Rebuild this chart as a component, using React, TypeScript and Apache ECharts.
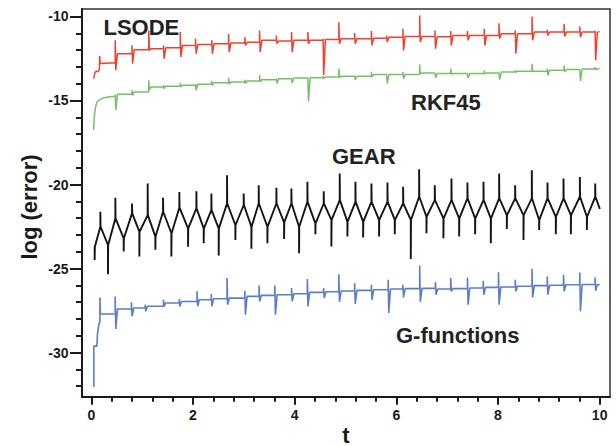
import React, { useEffect, useRef } from "react";
import * as echarts from "echarts";

// ---- axis ticks ----
const xMajorTicks = [0, 2, 4, 6, 8, 10];
const xMinorTicks = [0.4, 0.8, 1.2, 1.6, 2.4, 2.8, 3.2, 3.6, 4.4, 4.8, 5.2, 5.6, 6.4, 6.8, 7.2, 7.6, 8.4, 8.8, 9.2, 9.6];
const yMajorTicks = [-30, -25, -20, -15, -10];
const yMinorTicks = [-32, -31, -29, -28, -27, -26, -24, -23, -22, -21, -19, -18, -17, -16, -14, -13, -12, -11];
const X_MIN = -0.183;
const X_MAX = 10.204;
const Y_MIN = -32.63;
const Y_MAX = -9.554;

// ---- LSODE (red) ----
const lsodeHeadT = [0.047, 0.07, 0.1, 0.13, 0.16, 0.165, 0.175];
const lsodeHeadV = [-13.7, -13.35, -13.25, -13.3, -13.15, -12.35, -12.8];
const lsodeT = [0.47, 0.8, 1.13, 1.42, 1.75, 2.05, 2.37, 2.7, 3.02, 3.31, 3.64, 3.94, 4.26, 4.56, 4.87, 5.18, 5.51, 5.81, 6.13, 6.46, 6.76, 7.07, 7.4, 7.73, 8.02, 8.34, 8.67, 8.97, 9.3, 9.61, 9.91];
const lsodeBase = [-12.75, -12.22, -11.98, -11.92, -11.86, -11.72, -11.66, -11.62, -11.58, -11.54, -11.42, -11.46, -11.42, -11.42, -11.37, -11.33, -11.33, -11.29, -11.23, -11.19, -11.19, -11.2, -11.13, -11.13, -11.13, -11.03, -11.03, -10.93, -10.93, -10.93, -10.93];
const lsodeUp = [-11.42, -11.72, -10.83, -11.72, -10.93, -11.33, -11.42, -11.03, -11.23, -10.83, -11.13, -10.93, -10.93, -11.33, -10.34, -10.99, -10.87, -11.13, -10.73, -9.94, -10.83, -10.87, -10.87, -10.73, -10.4, -10.83, -10.0, -10.79, -10.44, -10.6, -10.83];
const lsodeDown = [-13.2, -12.81, -12.02, -12.51, -12.41, -12.22, -12.22, -12.12, -11.72, -12.12, -11.62, -12.12, -11.62, -13.5, -11.62, -11.62, -11.72, -11.52, -12.02, -11.52, -11.92, -11.72, -11.42, -11.72, -11.33, -12.22, -11.42, -11.13, -11.19, -11.23, -12.61];
const lsodeTailT = [9.96, 10.0];
const lsodeTailV = [-10.93, -10.9];

// ---- RKF45 (green) ----
const rkfHeadT = [0.047, 0.055, 0.08, 0.11, 0.16, 0.25, 0.4];
const rkfHeadV = [-16.76, -16.07, -15.45, -15.1, -14.95, -14.83, -14.76];
const rkfT = [0.47, 0.8, 1.13, 1.42, 1.75, 2.05, 2.37, 2.7, 3.02, 3.31, 3.64, 3.94, 4.26, 4.56, 4.87, 5.18, 5.51, 5.81, 6.13, 6.46, 6.76, 7.07, 7.4, 7.73, 8.02, 8.34, 8.67, 8.97, 9.3, 9.61, 9.91];
const rkfBase = [-14.74, -14.63, -14.49, -14.19, -14.15, -14.09, -14.03, -13.95, -13.9, -13.84, -13.76, -13.7, -13.66, -13.64, -13.6, -13.56, -13.56, -13.46, -13.46, -13.46, -13.36, -13.4, -13.4, -13.4, -13.36, -13.3, -13.26, -13.26, -13.2, -13.16, -13.12];
const rkfUp = [-14.65, -14.39, -13.8, -14.09, -13.95, -14.0, -13.84, -13.64, -13.76, -13.5, -13.7, -13.66, -13.64, -13.55, -13.1, -13.5, -13.3, -13.42, -13.3, -12.85, -13.34, -13.1, -13.38, -13.2, -13.34, -13.2, -12.81, -13.1, -12.91, -13.14, -13.0];
const rkfDown = [-15.57, -14.7, -14.35, -14.3, -14.19, -14.39, -14.09, -14.03, -13.99, -13.9, -13.99, -13.95, -15.04, -13.7, -13.64, -13.76, -13.6, -13.99, -13.7, -13.4, -13.66, -13.42, -13.66, -13.42, -13.76, -13.32, -13.28, -13.5, -13.3, -13.84, -13.14];
const rkfTailT = [9.96, 10.0];
const rkfTailV = [-13.12, -13.1];

// ---- GEAR (black): zigzag vertices with spikes ----
const gearT = [0.066, 0.178, 0.328, 0.473, 0.637, 0.801, 0.945, 1.109, 1.26, 1.411, 1.575, 1.732, 1.903, 2.067, 2.211, 2.362, 2.506, 2.67, 2.834, 2.998, 3.149, 3.293, 3.464, 3.641, 3.792, 3.936, 4.087, 4.251, 4.408, 4.572, 4.723, 4.887, 5.038, 5.196, 5.347, 5.511, 5.661, 5.826, 5.97, 6.134, 6.285, 6.449, 6.593, 6.757, 6.927, 7.085, 7.236, 7.399, 7.55, 7.715, 7.859, 8.023, 8.174, 8.338, 8.502, 8.666, 8.81, 8.974, 9.138, 9.289, 9.434, 9.611, 9.749, 9.913];
const gearVertex = [-23.7, -22.51, -23.6, -22.02, -23.2, -21.72, -22.81, -21.82, -23.1, -21.62, -22.9, -21.38, -22.61, -21.42, -22.61, -21.52, -22.61, -21.13, -22.41, -21.22, -22.51, -21.13, -22.51, -21.13, -22.25, -21.13, -22.51, -21.03, -22.31, -21.13, -22.11, -20.93, -22.21, -21.03, -22.21, -21.03, -22.11, -21.03, -22.11, -21.13, -22.11, -20.73, -21.92, -20.93, -22.02, -20.93, -22.02, -20.83, -22.02, -20.93, -22.02, -20.83, -21.82, -20.83, -21.82, -20.83, -22.11, -20.83, -21.92, -20.83, -21.82, -20.73, -21.92, -20.73];
const gearSpike = [-24.49, -21.62, -25.34, -20.79, -23.99, -21.13, -24.29, -19.94, -23.89, -20.79, -24.29, -20.44, -23.7, -20.4, -23.5, -20.53, -24.23, -19.45, -23.3, -20.53, -23.83, -20.04, -23.5, -20.2, -23.24, -20.24, -24.09, -19.84, -22.96, -20.4, -23.69, -19.35, -23.1, -19.84, -23.16, -19.94, -23.1, -19.88, -22.96, -20.14, -24.43, -19.09, -22.9, -20.04, -23.2, -19.64, -23.1, -19.88, -22.96, -19.84, -23.5, -19.35, -22.65, -20.04, -23.3, -19.15, -22.71, -19.88, -22.96, -19.64, -22.96, -19.55, -22.71, -19.94];
const gearTailT = [10.005];
const gearTailV = [-21.46];

// ---- G-functions (blue) ----
const gfHeadT = [0.05, 0.05, 0.11, 0.12, 0.15, 0.17, 0.17, 0.18];
const gfHeadV = [-32.05, -29.62, -29.62, -28.93, -28.3, -28.2, -26.72, -27.71];
const gfT = [0.47, 0.79, 1.06, 1.42, 1.73, 2.08, 2.36, 2.67, 3.02, 3.3, 3.61, 3.94, 4.25, 4.57, 4.87, 5.18, 5.51, 5.84, 6.13, 6.46, 6.77, 7.07, 7.4, 7.71, 8.01, 8.34, 8.67, 8.97, 9.29, 9.61, 9.91];
const gfBase = [-27.71, -27.41, -27.35, -27.25, -27.05, -26.96, -26.86, -26.8, -26.76, -26.66, -26.6, -26.56, -26.5, -26.42, -26.38, -26.34, -26.3, -26.26, -26.22, -26.2, -26.18, -26.22, -26.2, -26.16, -26.12, -26.1, -26.06, -26.02, -26.0, -25.97, -25.95];
const gfUp = [-26.66, -27.01, -27.15, -26.86, -26.82, -26.36, -26.52, -25.57, -26.32, -26.01, -26.01, -26.16, -25.63, -26.16, -25.34, -25.87, -25.97, -25.67, -25.97, -24.82, -25.8, -25.57, -25.53, -25.73, -25.22, -25.67, -25.02, -25.47, -25.37, -25.24, -25.53];
const gfDown = [-28.6, -27.84, -27.55, -27.25, -27.25, -27.25, -27.25, -27.15, -27.75, -26.96, -27.75, -26.96, -27.25, -26.76, -26.99, -27.11, -26.86, -27.65, -26.72, -26.99, -26.56, -26.36, -27.15, -26.56, -27.15, -26.36, -26.72, -26.56, -26.36, -27.55, -26.32];
const gfTailT = [9.96, 10.0];
const gfTailV = [-25.95, -25.97];

const FONT = '"Liberation Sans", Arial, Helvetica, sans-serif';
const INK = "#1a1a1a";

function spiky(headT: number[], headV: number[], T: number[], base: number[], up: number[], down: number[], tailT: number[], tailV: number[]) {
  const pts: number[][] = [];
  headT.forEach((t, i) => pts.push([t, headV[i]]));
  T.forEach((t, i) => {
    const next = i + 1 < T.length ? base[i + 1] : tailV[0];
    pts.push([t, base[i]]);
    pts.push([t, up[i]]);
    pts.push([t + 0.012, down[i]]);
    pts.push([t + 0.045, next]);
  });
  tailT.forEach((t, i) => pts.push([t, tailV[i]]));
  return pts;
}

function zigzag(T: number[], V: number[], S: number[], tailT: number[], tailV: number[]) {
  const pts: number[][] = [];
  T.forEach((t, i) => {
    pts.push([t, V[i]]);
    pts.push([t, S[i]]);
    pts.push([t + 0.004, V[i]]);
  });
  tailT.forEach((t, i) => pts.push([t, tailV[i]]));
  return pts;
}

export default function App() {
  const ref = useRef<HTMLDivElement>(null);
  useEffect(() => {
    if (!ref.current) return;
    const chart = echarts.init(ref.current, null, { renderer: "svg" });
    const labelStyle = { color: INK, fontWeight: "bold", fontSize: 14, fontFamily: FONT };
    const textStyle = (text: string) => ({
      text,
      font: `bold 22px ${FONT}`,
      fill: "#222",
      align: "left",
      verticalAlign: "middle",
      textAlign: "left",
      textVerticalAlign: "middle",
    });
    const line = (name: string, data: number[][], color: string, width: number) => ({
      name,
      type: "line",
      data,
      showSymbol: false,
      symbol: "none",
      lineStyle: { color, width },
      itemStyle: { color },
      xAxisIndex: 0,
      yAxisIndex: 0,
      z: 3,
    });
    chart.setOption({
      animation: false,
      backgroundColor: "#ffffff",
      grid: {
        left: 82,
        right: 6,
        top: 9,
        bottom: 49.3,
        containLabel: false,
        outerBoundsMode: "none",
        show: true,
        borderColor: "#333",
        borderWidth: 1.5,
        backgroundColor: "transparent",
      },
      xAxis: [
        {
          type: "value",
          position: "bottom",
          min: X_MIN,
          max: X_MAX,
          axisLine: { show: true, onZero: false, lineStyle: { color: INK, width: 2 } },
          axisTick: { show: true, customValues: xMajorTicks, length: 8, lineStyle: { color: INK, width: 2 } },
          axisLabel: { show: true, customValues: xMajorTicks, margin: 11, ...labelStyle },
          splitLine: { show: false },
        },
        {
          type: "value",
          position: "bottom",
          min: X_MIN,
          max: X_MAX,
          axisLine: { show: false, onZero: false },
          axisTick: { show: true, customValues: xMinorTicks, length: 5, lineStyle: { color: INK, width: 2 } },
          axisLabel: { show: false },
          splitLine: { show: false },
        },
      ],
      yAxis: [
        {
          type: "value",
          position: "left",
          min: Y_MIN,
          max: Y_MAX,
          axisLine: { show: true, onZero: false, lineStyle: { color: INK, width: 2 } },
          axisTick: { show: true, customValues: yMajorTicks, length: 12, lineStyle: { color: INK, width: 2 } },
          axisLabel: { show: true, customValues: yMajorTicks, margin: 13.5, ...labelStyle },
          splitLine: { show: false },
        },
        {
          type: "value",
          position: "left",
          min: Y_MIN,
          max: Y_MAX,
          axisLine: { show: false, onZero: false },
          axisTick: { show: true, customValues: yMinorTicks, length: 6, lineStyle: { color: INK, width: 2 } },
          axisLabel: { show: false },
          splitLine: { show: false },
        },
      ],
      series: [
        line("LSODE", spiky(lsodeHeadT, lsodeHeadV, lsodeT, lsodeBase, lsodeUp, lsodeDown, lsodeTailT, lsodeTailV), "#f0412f", 1.5),
        line("RKF45", spiky(rkfHeadT, rkfHeadV, rkfT, rkfBase, rkfUp, rkfDown, rkfTailT, rkfTailV), "#74c265", 1.5),
        line("GEAR", zigzag(gearT, gearVertex, gearSpike, gearTailT, gearTailV), "#151515", 1.9),
        line("G-functions", spiky(gfHeadT, gfHeadV, gfT, gfBase, gfUp, gfDown, gfTailT, gfTailV), "#5a7ec8", 1.6),
      ],
      graphic: [
        { type: "text", x: 103.5, y: 27.5, z: 10, style: textStyle("LSODE") },
        { type: "text", x: 411, y: 102, z: 10, style: textStyle("RKF45") },
        { type: "text", x: 332, y: 156, z: 10, style: textStyle("GEAR") },
        { type: "text", x: 396, y: 335.5, z: 10, style: textStyle("G-functions") },
        {
          type: "text",
          x: 29,
          y: 207,
          rotation: Math.PI / 2,
          z: 10,
          style: { ...textStyle("log (error)"), align: "center", textAlign: "center", fill: INK },
        },
        {
          type: "text",
          x: 346,
          y: 435,
          z: 10,
          style: { ...textStyle("t"), align: "center", textAlign: "center", fill: INK },
        },
      ],
    });
    return () => chart.dispose();
  }, []);
  return (
    <div
      ref={ref}
      style={{ position: "absolute", left: 0, top: 0, width: 616, height: 446, background: "#fff" }}
    />
  );
}
